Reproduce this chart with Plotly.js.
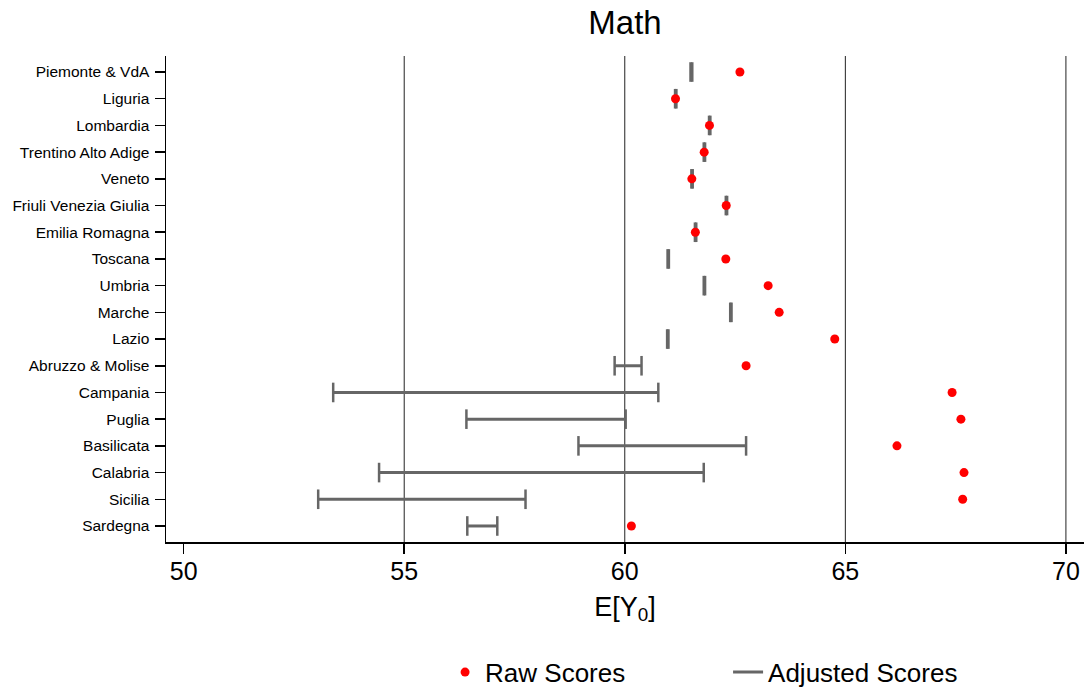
<!DOCTYPE html>
<html>
<head>
<meta charset="utf-8">
<script src="https://cdn.plot.ly/plotly-3.0.1.min.js"></script>
<style>html,body{margin:0;padding:0;background:#fff;}#chart{width:1086px;height:693px;}</style>
</head>
<body>
<div id="chart"></div>
<script>
const regions = ["Piemonte & VdA","Liguria","Lombardia","Trentino Alto Adige","Veneto","Friuli Venezia Giulia","Emilia Romagna","Toscana","Umbria","Marche","Lazio","Abruzzo & Molise","Campania","Puglia","Basilicata","Calabria","Sicilia","Sardegna"];
const rawScores = [62.61,61.15,61.92,61.80,61.52,62.30,61.60,62.29,63.25,63.50,64.76,62.75,67.42,67.62,66.17,67.69,67.66,60.15];
const adjLow  = [61.49,61.14,61.91,61.79,61.51,62.29,61.59,60.97,61.79,62.39,60.96,59.77,53.39,56.41,58.95,54.43,53.05,56.43];
const adjHigh = [61.53,61.17,61.94,61.82,61.54,62.32,61.62,61.00,61.82,62.42,60.99,60.38,60.76,60.02,62.75,61.79,57.75,57.11];
const xTicks = [50,55,60,65,70];
const gridVals = [55,60,65,70];

const segX = [], segY = [], capX = [], capY = [];
regions.forEach((r, i) => {
  segX.push(adjLow[i], adjHigh[i], null);
  segY.push(r, r, null);
  capX.push(adjLow[i], adjHigh[i]);
  capY.push(r, r);
});

const grey = '#666666';
const traces = [
  {type:'scatter', mode:'markers', x:capX, y:capY, showlegend:false, hoverinfo:'skip',
   marker:{symbol:'line-ns', size:14, line:{color:grey, width:2.5}, color:grey}},
  {type:'scatter', mode:'lines', name:'Adjusted Scores', x:segX, y:segY, legendrank:2,
   line:{color:grey, width:3}},
  {type:'scatter', mode:'markers', name:'Raw Scores', x:rawScores, y:regions, legendrank:1,
   marker:{color:'#ff0000', size:9}}
];

const shapes = gridVals.map(v => ({type:'line', xref:'x', yref:'paper', x0:v, x1:v, y0:0, y1:1,
  layer:'below', line:{color:'#222', width:1}}));

const layout = {
  width:1086, height:693,
  margin:{l:166, r:2, t:56, b:151, autoexpand:false},
  paper_bgcolor:'#fff', plot_bgcolor:'#fff',
  font:{family:'"Liberation Sans", Arial, sans-serif', color:'#000'},
  title:{text:'Math', font:{size:33, color:'#000'}, xref:'paper', x:0.5, xanchor:'center',
         yref:'container', y:0.967, yanchor:'middle'},
  xaxis:{range:[49.6,70.41], tickvals:xTicks, ticktext:xTicks.map(String), ticks:'outside', ticklen:10,
         tickwidth:1.5, tickcolor:'#000', showline:true, linecolor:'#000', linewidth:1.5,
         showgrid:false, zeroline:false, tickfont:{size:25}, automargin:false, ticklabelstandoff:-4,
         title:{text:'E[Y<sub>0</sub>]', font:{size:27}, standoff:13}},
  yaxis:{type:'category', categoryarray:regions, categoryorder:'array', range:[17.6,-0.6],
         ticks:'outside', ticklen:10, tickwidth:1.5, tickcolor:'#000', showline:true, automargin:false,
         ticklabelstandoff:2,
         linecolor:'#000', linewidth:1.5, showgrid:false, zeroline:false, tickfont:{size:15.5}},
  shapes:shapes,
  showlegend:true,
  legend:{orientation:'h', x:0.304, xanchor:'left', yref:'container', y:0.03, yanchor:'middle',
          font:{size:26}, entrywidthmode:'pixels', entrywidth:238, bgcolor:'rgba(0,0,0,0)'}
};

Plotly.newPlot('chart', traces, layout, {displayModeBar:false, staticPlot:true});
</script>
</body>
</html>
